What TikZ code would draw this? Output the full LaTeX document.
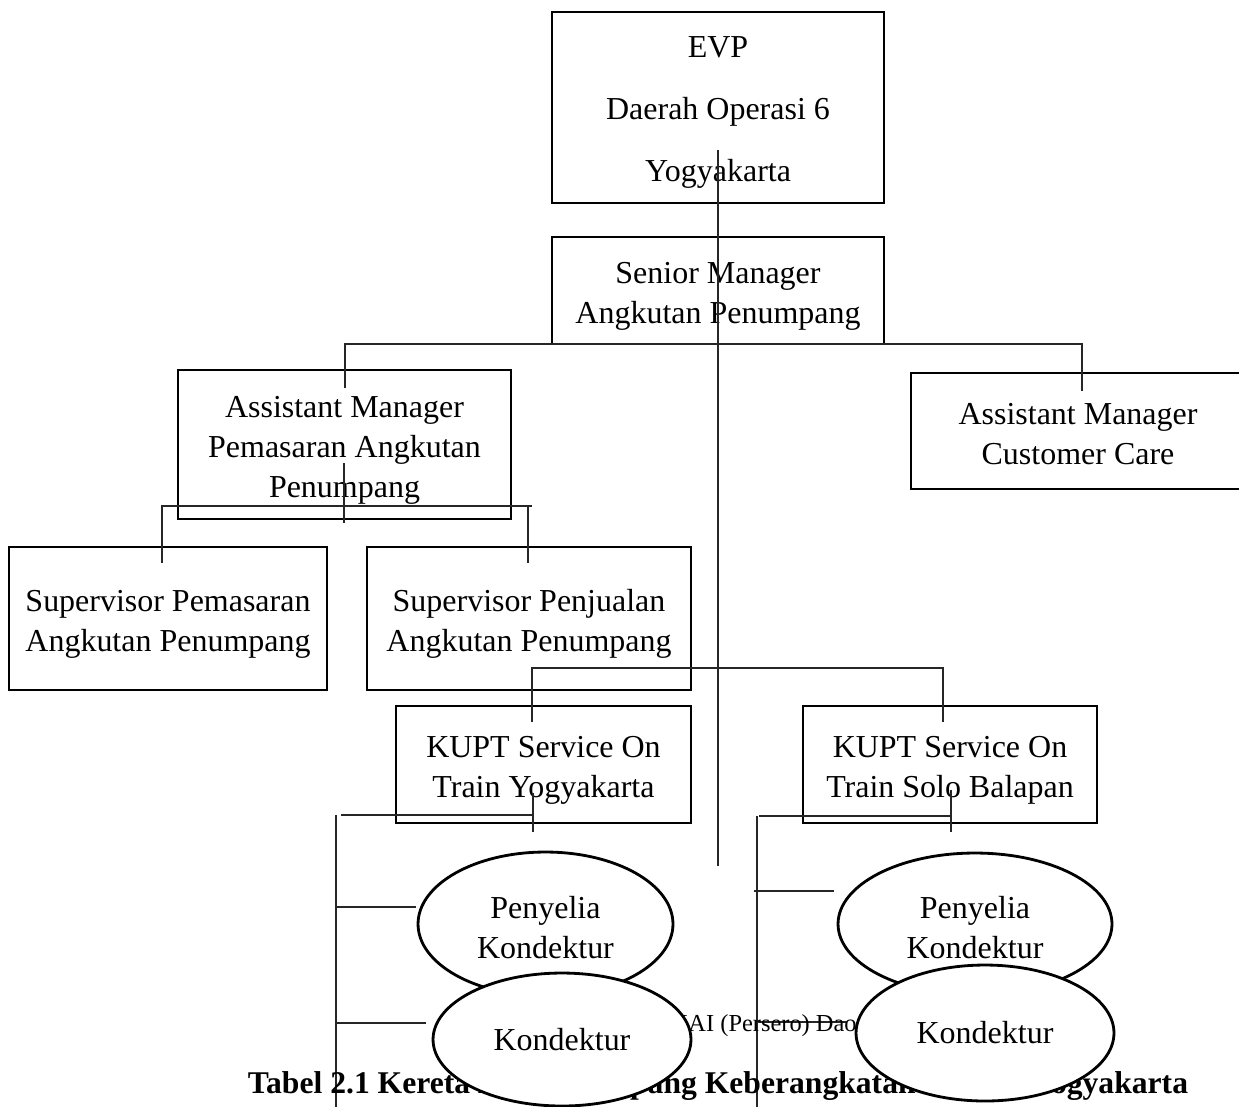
\documentclass[tikz,border=0pt]{standalone}
\usepackage{fontspec}
\setmainfont{Liberation Serif}
\usetikzlibrary{shapes.geometric}
\newcommand\boxfont{\fontsize{18.2}{22.8}\selectfont}
\newcommand\evpfont{\fontsize{18.2}{35.3}\selectfont}
\newcommand\lowr[1]{\rule{0pt}{#1}}
\begin{document}
\begin{tikzpicture}[x=0.02cm,y=-0.02cm,
  box/.style={draw, line width=1.6pt, rectangle, align=center, font=\boxfont, inner sep=0pt},
  oval/.style={draw, line width=1.6pt, ellipse, fill=white, align=center, font=\boxfont, inner sep=0pt},
  link/.style={line width=0.6pt, draw=black!85}]
\useasboundingbox (0,0) rectangle (1239,1106);
% boxes
\node[box, font=\evpfont, minimum width=6.64cm, minimum height=3.82cm] (evp) at (718,107.5) {\lowr{17.5pt}EVP\\Daerah Operasi 6\\Yogyakarta};
\node[box, minimum width=6.64cm, minimum height=2.14cm] (senior) at (718,290.5) {\lowr{18.5pt}Senior Manager\\Angkutan Penumpang};
\node[box, minimum width=6.66cm, minimum height=2.98cm] (amp) at (344.5,444.5) {\lowr{19pt}Assistant Manager\\Pemasaran Angkutan\\Penumpang};
\node[box, minimum width=6.68cm, minimum height=2.32cm] (amcc) at (1078,431) {\lowr{16pt}Assistant Manager\\Customer Care};
\node[box, minimum width=6.36cm, minimum height=2.86cm] (spem) at (168,618.5) {\lowr{19pt}Supervisor Pemasaran\\Angkutan Penumpang};
\node[box, minimum width=6.48cm, minimum height=2.86cm] (spen) at (529,618.5) {\lowr{19pt}Supervisor Penjualan\\Angkutan Penumpang};
\node[box, minimum width=5.9cm, minimum height=2.34cm] (ky) at (543.5,764.5) {\lowr{19pt}KUPT Service On\\Train Yogyakarta};
\node[box, minimum width=5.88cm, minimum height=2.34cm] (ks) at (950,764.5) {\lowr{19pt}KUPT Service On\\Train Solo Balapan};
% connectors
\coordinate (spineTop) at (718,150);
\coordinate (spineEnd) at (718,866);
\draw[link] (spineTop) -- (spineEnd);
\coordinate (ampIn) at (345,388);
\coordinate (amccIn) at (1082,391);
\draw[link] (ampIn) -- (345,344) -- (1082,344) -- (amccIn);
\coordinate (ampOutA) at (344,463);
\coordinate (ampOutB) at (344,523);
\draw[link] (ampOutA) -- (ampOutB);
\coordinate (spemIn) at (162,563);
\coordinate (spenIn) at (528,563);
\draw[link] (spemIn) -- (162,506) -- (532,506);
\draw[link] (528,506) -- (spenIn);
\coordinate (kyIn) at (532,722);
\coordinate (ksIn) at (943,722);
\draw[link] (kyIn) -- (532,668) -- (943,668) -- (ksIn);
% Yogyakarta branch
\coordinate (kyOutA) at (533,793);
\coordinate (kyOutB) at (533,832);
\draw[link] (kyOutA) -- (kyOutB);
\draw[link] (341,815) -- (533,815);
\coordinate (ySpineTop) at (336,815);
\coordinate (ySpineEnd) at (336,1110);
\draw[link] (ySpineTop) -- (ySpineEnd);
\coordinate (pyIn) at (416,907);
\coordinate (kdyIn) at (426,1023);
\draw[link] (336,907) -- (pyIn);
\draw[link] (336,1023) -- (kdyIn);
% Solo branch
\coordinate (ksOutA) at (951,790);
\coordinate (ksOutB) at (951,832);
\draw[link] (ksOutA) -- (ksOutB);
\draw[link] (759,816) -- (951,816);
\coordinate (sSpineTop) at (757,816);
\coordinate (sSpineEnd) at (757,1110);
\draw[link] (sSpineTop) -- (sSpineEnd);
\coordinate (psIn) at (834,891);
\coordinate (kdsIn) at (846,1022);
\draw[link] (754,891) -- (psIn);
\draw[link] (757,1022) -- (kdsIn);
% captions
\node[font=\fontsize{13.9}{16}\selectfont, anchor=base west, inner sep=0pt] (src) at (545,1031) {Sumber: PT KAI (Persero) Daop 6 Yogyakarta};
\node[font=\bfseries\fontsize{18}{20}\selectfont, anchor=base, inner sep=0pt] (cap) at (718,1093) {Tabel 2.1 Kereta Api Penumpang Keberangkatan Stasiun Yogyakarta};
% ellipses
\node[oval, minimum width=5.1cm, minimum height=2.88cm] (py) at (545.5,924) {\lowr{17pt}Penyelia\\Kondektur};
\node[oval, minimum width=5.48cm, minimum height=2.84cm] (ps) at (975,924) {\lowr{17pt}Penyelia\\Kondektur};
\node[oval, minimum width=5.16cm, minimum height=2.66cm] (kdy) at (562,1039.5) {Kondektur};
\node[oval, minimum width=5.16cm, minimum height=2.72cm] (kds) at (985,1033) {Kondektur};
\end{tikzpicture}
\end{document}
